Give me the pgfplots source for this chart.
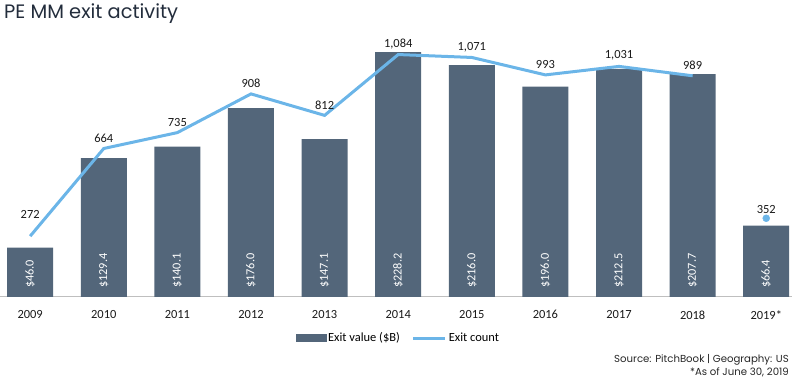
\documentclass[border=0pt]{standalone}
\usepackage{fontspec}
\setmainfont{Carlito}
\newfontfamily\titlefont{Poppins}
\usepackage{pgfplots}
\pgfplotsset{compat=1.18}
\definecolor{barcol}{RGB}{83,102,122}
\definecolor{linecol}{RGB}{107,181,232}
\definecolor{axcol}{RGB}{191,191,191}
\definecolor{titlecol}{RGB}{35,45,60}
\begin{document}
\begin{tikzpicture}
\path[use as bounding box] (0bp,0bp) rectangle (792bp,381bp);
\begin{axis}[
  at={(0bp,84bp)}, anchor=south west,
  scale only axis, width=792bp, height=268.4bp,
  xmin=-0.41, xmax=10.35, ymin=0, ymax=250,
  axis x line=bottom, axis y line=none,
  x axis line style={-, draw=axcol, line width=1bp},
  xtick={0,1,2,3,4,5,6,7,8,9,10},
  xticklabels={2009,2010,2011,2012,2013,2014,2015,2016,2017,2018,2019*},
  major tick length=0pt,
  xticklabel style={font=\fontsize{12.5}{14}\selectfont, yshift=-10bp, text=black!90},
  clip=false,
]
\addplot[ybar, bar width=46bp, fill=barcol, draw=none] coordinates {
(0,46.0) (1,129.4) (2,140.1) (3,176.0) (4,147.1) (5,228.2) (6,216.0) (7,196.0) (8,212.5) (9,207.7) (10,66.4)};
\addplot[draw=none, mark=none, point meta=explicit,
  nodes near coords={\$\pgfmathprintnumber[fixed, fixed zerofill, precision=1, assume math mode=true]{\pgfplotspointmeta}},
  every node near coord/.style={yshift=9bp, rotate=90, anchor=west, inner sep=0pt, text=white, font=\fontsize{12.3}{14}\selectfont}]
coordinates {
(0,0) [46.0] (1,0) [129.4] (2,0) [140.1] (3,0) [176.0] (4,0) [147.1] (5,0) [228.2] (6,0) [216.0] (7,0) [196.0] (8,0) [212.5] (9,0) [207.7] (10,0) [66.4]};
\end{axis}
\begin{axis}[
  at={(0bp,84bp)}, anchor=south west,
  scale only axis, width=792bp, height=268.4bp,
  xmin=-0.41, xmax=10.35, ymin=0, ymax=1200,
  hide axis, clip=false,
  legend style={at={(0.503,-0.1528)}, anchor=center, draw=none, fill=none,
    font=\fontsize{12.5}{14}\selectfont, legend columns=2,
    /tikz/every even column/.append style={column sep=10bp}},
  legend cell align=left,
]
\addlegendimage{legend image code/.code={\fill[barcol] (0bp,-3.5bp) rectangle (30bp,3.5bp);}}
\addlegendentry{Exit value (\$B)}
\addplot[linecol, line width=3bp, mark=none,
  legend image code/.code={\draw[linecol, line width=3bp] (0bp,0bp) -- (32bp,0bp);},
  nodes near coords={\pgfmathprintnumber[1000 sep={,}, assume math mode=true]{\pgfplotspointmeta}},
  every node near coord/.style={anchor=south, yshift=1bp, text=black!90, font=\fontsize{12.5}{14}\selectfont},
  coordinate style/.condition={\coordindex==0}{yshift=12bp}]
coordinates {
(0,272) (1,664) (2,735) (3,908) (4,812) (5,1084) (6,1071) (7,993) (8,1031) (9,989)};
\addlegendentry{Exit count}
\addplot[forget plot, only marks, mark=*, mark size=3.5bp, color=linecol,
  nodes near coords={\pgfmathprintnumber[1000 sep={,}, assume math mode=true]{\pgfplotspointmeta}},
  every node near coord/.style={anchor=south, yshift=1bp, text=black!90, font=\fontsize{12.5}{14}\selectfont}]
coordinates {(10,352)};
\end{axis}
\node[anchor=base west, font=\titlefont\fontsize{19.5}{22}\selectfont, text=titlecol, inner sep=0pt] at (4bp,362bp) {PE MM exit activity};
\node[anchor=base east, font=\titlefont\fontsize{10.2}{12}\selectfont, text=black!85, inner sep=0pt] at (789bp,18.5bp) {Source: PitchBook | Geography: US};
\node[anchor=base east, font=\titlefont\fontsize{10.2}{12}\selectfont, text=black!85, inner sep=0pt] at (789bp,6bp) {*As of June 30, 2019};
\end{tikzpicture}
\end{document}
